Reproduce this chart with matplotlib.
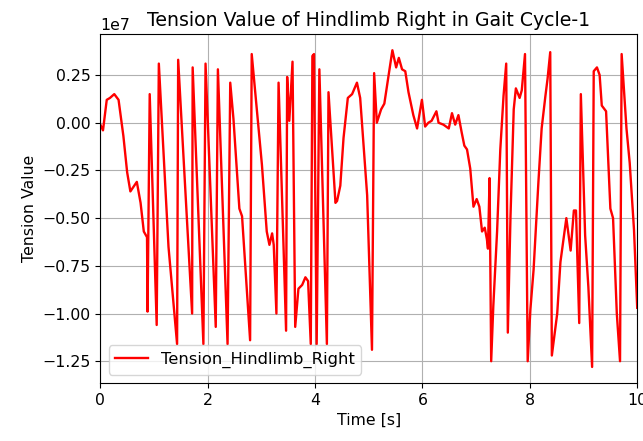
import matplotlib
matplotlib.use("Agg")
import matplotlib.pyplot as plt

# time [s] and tension (x1e7) for the right hindlimb
time_s = [
    0.00, 0.05, 0.12, 0.18, 0.26, 0.34, 0.43, 0.50, 0.56, 0.68,
    0.75, 0.81, 0.87, 0.88, 0.92, 1.05, 1.09, 1.27, 1.43, 1.45,
    1.71, 1.72, 1.92, 1.96, 2.15, 2.19, 2.37, 2.42, 2.48, 2.59,
    2.64, 2.79, 2.82, 3.01, 3.10, 3.15, 3.20, 3.23, 3.28, 3.32,
    3.46, 3.48, 3.52, 3.58, 3.63, 3.69, 3.76, 3.82, 3.87, 3.92,
    3.95, 3.98, 4.03, 4.08, 4.22, 4.25, 4.38, 4.41, 4.47, 4.53,
    4.61, 4.69, 4.78, 4.84, 4.97, 5.06, 5.10, 5.15, 5.23, 5.29,
    5.37, 5.44, 5.51, 5.56, 5.62, 5.68, 5.74, 5.83, 5.90, 5.99,
    6.05, 6.11, 6.17, 6.26, 6.30, 6.39, 6.49, 6.55, 6.61, 6.67,
    6.73, 6.78, 6.83, 6.89, 6.95, 7.01, 7.06, 7.11, 7.16, 7.20,
    7.22, 7.25, 7.28, 7.32, 7.39, 7.45, 7.51, 7.56, 7.59, 7.64,
    7.70, 7.74, 7.81, 7.85, 7.91, 7.96, 8.01, 8.07, 8.16, 8.22,
    8.29, 8.33, 8.38, 8.41, 8.51, 8.57, 8.68, 8.76, 8.82, 8.86,
    8.92, 8.95, 9.03, 9.09, 9.16, 9.19, 9.25, 9.30, 9.34, 9.42,
    9.50, 9.55, 9.62, 9.68, 9.71, 9.80, 9.86, 9.94, 10.00,
]
tension = [
    -0.01, -0.04, 0.12, 0.13, 0.15, 0.12, -0.07, -0.26, -0.36, -0.31,
    -0.42, -0.57, -0.60, -0.99, 0.15, -1.06, 0.31, -0.65, -1.16, 0.33,
    -1.00, 0.29, -1.16, 0.31, -1.07, 0.28, -1.16, 0.21, 0.02, -0.45,
    -0.49, -1.14, 0.36, -0.22, -0.57, -0.64, -0.58, -0.64, -1.00, 0.21,
    -1.09, 0.24, 0.01, 0.32, -1.07, -0.87, -0.85, -0.81, -0.83, -1.16,
    0.35, 0.36, -1.16, 0.28, -1.16, 0.16, -0.42, -0.41, -0.33, -0.08,
    0.13, 0.15, 0.21, 0.13, -0.38, -1.19, 0.26, 0.00, 0.07, 0.10,
    0.25, 0.38, 0.29, 0.34, 0.28, 0.27, 0.16, 0.04, -0.03, 0.12,
    -0.02, 0.00, 0.01, 0.06, 0.00, -0.01, -0.03, 0.05, -0.01, 0.04,
    -0.05, -0.12, -0.14, -0.24, -0.44, -0.40, -0.44, -0.57, -0.55, -0.61,
    -0.66, -0.29, -1.25, -0.96, -0.57, -0.14, 0.14, 0.31, -1.10, -0.49,
    0.07, 0.18, 0.13, 0.17, 0.36, -1.25, -0.98, -0.77, -0.31, -0.03,
    0.14, 0.23, 0.37, -1.22, -1.00, -0.73, -0.50, -0.67, -0.46, -0.46,
    -1.05, 0.15, -0.59, -0.86, -1.28, 0.27, 0.29, 0.25, 0.09, 0.06,
    -0.45, -0.50, -1.00, -1.25, 0.36, -0.03, -0.21, -0.56, -0.97,
]
tension = [v * 1e7 for v in tension]

plt.rcParams["font.size"] = 11.3

fig, ax = plt.subplots(figsize=(6.43, 4.41), dpi=100)
fig.subplots_adjust(left=0.156, right=0.991, top=0.922, bottom=0.132)

ax.plot(time_s, tension, color="red", linewidth=1.7, label="Tension_Hindlimb_Right")
ax.set_xlim(0, 10)
ax.grid()
ax.set_xlabel("Time [s]")
ax.set_ylabel("Tension Value")
ax.set_title("Tension Value of Hindlimb Right in Gait Cycle-1", fontsize=13.6)
ax.legend(loc="lower left", fontsize=11.8)

fig.savefig("out.png", dpi=100)
